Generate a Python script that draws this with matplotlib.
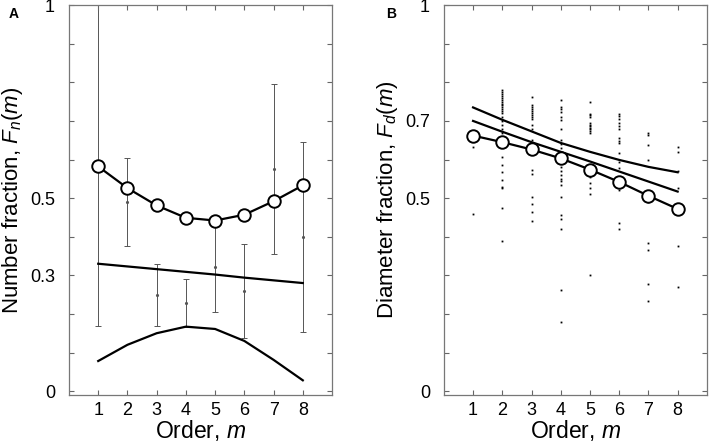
import numpy as np
import matplotlib
matplotlib.use("Agg")
import matplotlib.pyplot as plt

plt.rcParams['font.family'] = ['Liberation Sans', 'DejaVu Sans']
plt.rcParams['mathtext.fontset'] = 'custom'
plt.rcParams['mathtext.rm'] = 'Liberation Sans'
plt.rcParams['mathtext.it'] = 'Liberation Sans:italic'

# order axis
orders = [1, 2, 3, 4, 5, 6, 7, 8]

# panel A - number fraction
fn_model = [0.582, 0.526, 0.481, 0.449, 0.442, 0.457, 0.492, 0.533]
fn_line = [0.330, 0.323, 0.316, 0.309, 0.302, 0.294, 0.287, 0.280]
fn_low = [0.078, 0.120, 0.150, 0.167, 0.161, 0.130, 0.081, 0.028]
fn_obs = [0.59, 0.49, 0.25, 0.229, 0.322, 0.259, 0.576, 0.399]
fn_err = [0.42, 0.115, 0.08, 0.062, 0.116, 0.122, 0.22, 0.246]

# panel B - diameter fraction
fd_model = [0.662, 0.645, 0.626, 0.603, 0.574, 0.542, 0.506, 0.472]
fd_upper = [0.735, 0.703, 0.673, 0.643, 0.620, 0.599, 0.581, 0.567]
fd_mid = [0.700, 0.672, 0.645, 0.620, 0.595, 0.569, 0.543, 0.517]
fd_dots_1 = [0.633, 0.46]
fd_dots_2 = [0.78, 0.775, 0.77, 0.765, 0.76, 0.755, 0.75, 0.745, 0.74, 0.735,
             0.73, 0.725, 0.72, 0.71, 0.70, 0.69, 0.68, 0.67, 0.607, 0.586,
             0.567, 0.547, 0.530, 0.526, 0.474, 0.388]
fd_dots_3 = [0.761, 0.74, 0.735, 0.73, 0.725, 0.72, 0.715, 0.71, 0.705, 0.69,
             0.68, 0.65, 0.64, 0.633, 0.573, 0.562, 0.504, 0.485, 0.463, 0.44]
fd_dots_4 = [0.754, 0.737, 0.73, 0.724, 0.711, 0.702, 0.68, 0.65, 0.64, 0.63,
             0.62, 0.599, 0.59, 0.58, 0.57, 0.56, 0.55, 0.545, 0.534, 0.504,
             0.457, 0.446, 0.42, 0.261, 0.18]
fd_dots_5 = [0.749, 0.719, 0.715, 0.711, 0.694, 0.69, 0.686, 0.682, 0.678,
             0.674, 0.668, 0.581, 0.556, 0.538, 0.527, 0.511, 0.30]
fd_dots_6 = [0.719, 0.714, 0.706, 0.694, 0.687, 0.68, 0.655, 0.648, 0.642,
             0.616, 0.594, 0.577, 0.521, 0.435, 0.42]
fd_dots_7 = [0.67, 0.663, 0.637, 0.60, 0.49, 0.385, 0.365, 0.278, 0.234]
fd_dots_8 = [0.633, 0.62, 0.569, 0.526, 0.375, 0.269]
fd_dots = [fd_dots_1, fd_dots_2, fd_dots_3, fd_dots_4,
           fd_dots_5, fd_dots_6, fd_dots_7, fd_dots_8]

yticks = [0, 0.1, 0.2, 0.3, 0.4, 0.5, 0.6, 0.7, 0.8, 0.9, 1.0]
labels_a = ['0', '', '', '0.3', '', '0.5', '', '', '', '', '1']
labels_b = ['0', '', '', '', '', '0.5', '', '0.7', '', '', '1']

fig = plt.figure(figsize=(7.09, 4.43), dpi=100)
ax_a = fig.add_axes([0.0973, 0.1084, 0.371, 0.880])
ax_b = fig.add_axes([0.626, 0.1084, 0.371, 0.880])


def style_axes(ax, ylabels, ylabel):
    ax.set_xlim(0, 9)
    ax.set_ylim(-0.01, 1.0)
    ax.set_xticks(orders)
    ax.set_yticks(yticks)
    ax.set_yticklabels(ylabels)
    ax.tick_params(direction='in', length=3.5, width=0.8, color='#666666',
                   top=True, right=True, labelsize=13)
    ax.tick_params(axis='y', pad=10)
    ax.tick_params(axis='x', pad=5)
    for s in ax.spines.values():
        s.set_color('#777777')
        s.set_linewidth(0.9)
    ax.set_xlabel('Order, $m$', fontsize=16.5)
    ax.set_ylabel(ylabel, fontsize=16)
    ax.xaxis.set_label_coords(0.5, -0.06)
    # anchor is the right edge of the rotated label
    ax.yaxis.set_label_coords(-0.167, 0.5)


# panel A
ax_a.errorbar(orders, fn_obs, yerr=fn_err, fmt='.', color='#555555',
              markersize=2.5, elinewidth=0.7, capsize=2, capthick=0.7, zorder=1)
ax_a.plot(orders, fn_line, color='black', lw=1.6, zorder=2)
ax_a.plot(orders, fn_low, color='black', lw=1.6, zorder=2)
ax_a.plot(orders, fn_model, color='black', lw=1.6, marker='o', markersize=9,
          markerfacecolor='white', markeredgewidth=1.4, zorder=3)
style_axes(ax_a, labels_a, 'Number fraction, $F_n(m)$')

# panel B
for m, vals in zip(orders, fd_dots):
    ax_b.plot([m] * len(vals), vals, ls='none', marker='s', markersize=1.3,
              color='black', markeredgewidth=0, zorder=1)
ax_b.plot(orders, fd_upper, color='black', lw=1.6, zorder=2)
ax_b.plot(orders, fd_mid, color='black', lw=1.6, zorder=2)
ax_b.plot(orders, fd_model, color='black', lw=1.6, marker='o', markersize=9,
          markerfacecolor='white', markeredgewidth=1.4, zorder=3)
style_axes(ax_b, labels_b, 'Diameter fraction, $F_d(m)$')

fig.text(14 / 709, 1 - 14 / 443, 'A', fontsize=10, fontweight='bold',
         ha='center', va='center')
fig.text(391 / 709, 1 - 14 / 443, 'B', fontsize=10, fontweight='bold',
         ha='center', va='center')

fig.savefig('out.png', dpi=100)
